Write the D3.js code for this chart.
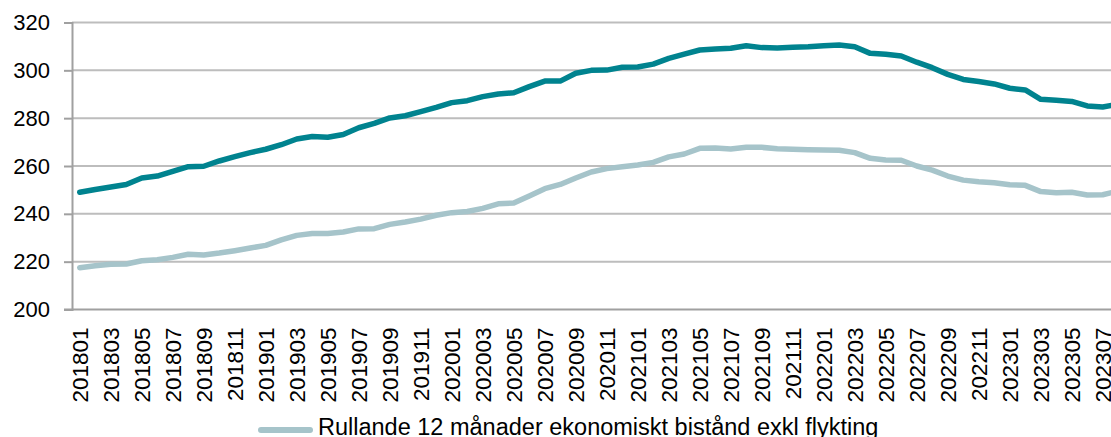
<!DOCTYPE html>
<html>
<head>
<meta charset="utf-8">
<script src="https://d3js.org/d3.v7.min.js"></script>
<style>
  body { margin: 0; background: #fff; }
  svg { display: block; font-family: "Liberation Sans", Arial, sans-serif; }
</style>
</head>
<body>
<div class="wrapper"></div>
<script>
// months on the x axis (last one is cut off by the picture edge)
var months = ["201801","201802","201803","201804","201805","201806","201807","201808","201809","201810","201811","201812",
  "201901","201902","201903","201904","201905","201906","201907","201908","201909","201910","201911","201912",
  "202001","202002","202003","202004","202005","202006","202007","202008","202009","202010","202011","202012",
  "202101","202102","202103","202104","202105","202106","202107","202108","202109","202110","202111","202112",
  "202201","202202","202203","202204","202205","202206","202207","202208","202209","202210","202211","202212",
  "202301","202302","202303","202304","202305","202306","202307","202308"];

// dark line (total, rolling 12 months)
var totalSeries = [249,250.2,251.2,252.3,255,255.8,257.8,259.7,259.9,262.1,263.9,265.6,
  267,268.9,271.3,272.3,272,273.2,276,277.8,280.1,281,282.7,284.5,
  286.5,287.3,289,290.1,290.6,293.2,295.5,295.5,298.8,300,300.1,301.3,
  301.4,302.6,305,306.8,308.5,308.9,309.2,310.3,309.5,309.3,309.7,309.9,
  310.3,310.6,309.9,307.1,306.7,306,303.4,301.1,298.3,296.2,295.3,294.3,
  292.5,291.8,287.9,287.5,287,285.1,284.7,285.8];

// light line: Rullande 12 månader ekonomiskt bistånd exkl flykting
var exklSeries = [217.5,218.3,218.9,219,220.4,220.8,221.8,223.1,222.8,223.6,224.6,225.7,
  226.8,229.1,231,231.8,231.8,232.4,233.7,233.8,235.6,236.6,237.8,239.4,
  240.5,241,242.3,244.2,244.5,247.5,250.5,252.3,255,257.5,258.9,259.7,
  260.4,261.5,263.8,265,267.4,267.5,267.1,267.8,267.8,267.2,267,266.8,
  266.7,266.6,265.6,263.2,262.5,262.4,260,258.3,255.8,254.1,253.4,253,
  252.2,251.9,249.3,248.8,249,247.9,248,249.5];

var yTicks = [200,220,240,260,280,300,320];
var legendLabel = "Rullande 12 månader ekonomiskt bistånd exkl flykting";

var W = 1111, H = 437;
var plotLeft = 72, plotTop = 22.5, plotBottom = 309.5;
var step = 15.5;

var svg = d3.select(".wrapper").append("svg")
  .attr("width", W).attr("height", H);

var x = d3.scalePoint()
  .domain(months)
  .range([plotLeft + step / 2, plotLeft + step / 2 + step * (months.length - 1)]);

var y = d3.scaleLinear().domain([200, 320]).range([plotBottom, plotTop]);

// gridlines
svg.selectAll(".grid")
  .data(yTicks.filter(function(d){ return d > 200; }))
  .enter().append("line")
  .attr("x1", plotLeft).attr("x2", W + 20)
  .attr("y1", function(d){ return y(d); }).attr("y2", function(d){ return y(d); })
  .style("stroke", "#bdbdbd").style("stroke-width", 2);

// y axis
var yAxis = svg.append("g")
  .attr("transform", "translate(" + plotLeft + ",0)")
  .call(d3.axisLeft(y).tickValues(yTicks).tickSize(8).tickPadding(14));
yAxis.select(".domain").style("stroke", "#a0a0a0").style("stroke-width", 2);
yAxis.selectAll(".tick line").style("stroke", "#a0a0a0").style("stroke-width", 2);
yAxis.selectAll(".tick text")
  .style("font-size", "22px").style("fill", "#000")
  .attr("font-family", "Liberation Sans, Arial, sans-serif");

// bottom axis line
svg.append("line")
  .attr("x1", plotLeft - 8).attr("x2", W + 20)
  .attr("y1", plotBottom).attr("y2", plotBottom)
  .style("stroke", "#a0a0a0").style("stroke-width", 2);

// x labels every second month, rotated
svg.selectAll(".xlab")
  .data(months.filter(function(d, i){ return i % 2 === 0; }))
  .enter().append("text")
  .attr("transform", function(d){ return "translate(" + (x(d) + 8) + "," + (plotBottom + 18) + ") rotate(-90)"; })
  .style("text-anchor", "end")
  .style("font-size", "22.5px")
  .style("fill", "#000")
  .text(function(d){ return d; });

// lines
var line = d3.line()
  .x(function(d, i){ return x(months[i]); })
  .y(function(d){ return y(d); });

svg.append("path")
  .datum(exklSeries)
  .attr("d", line)
  .style("fill", "none")
  .style("stroke", "#a6c4ca")
  .style("stroke-width", 5.5)
  .style("stroke-linejoin", "round")
  .style("stroke-linecap", "round");

svg.append("path")
  .datum(totalSeries)
  .attr("d", line)
  .style("fill", "none")
  .style("stroke", "#00838f")
  .style("stroke-width", 5.5)
  .style("stroke-linejoin", "round")
  .style("stroke-linecap", "round");

// legend
var lg = svg.append("g").attr("transform", "translate(258,430)");
lg.append("line")
  .attr("x1", 3).attr("x2", 52).attr("y1", 0).attr("y2", 0)
  .style("stroke", "#a6c4ca").style("stroke-width", 6).style("stroke-linecap", "round");
lg.append("text")
  .attr("x", 60).attr("y", 5)
  .style("font-size", "23.5px")
  .style("fill", "#000")
  .text(legendLabel);
</script>
</body>
</html>
